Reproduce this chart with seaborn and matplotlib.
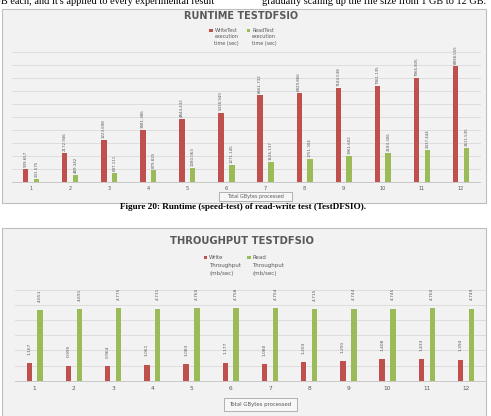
import numpy as np
import pandas as pd
import matplotlib
matplotlib.use("Agg")
import matplotlib.pyplot as plt
import seaborn as sns
from matplotlib.patches import Rectangle

# ---------------- data ----------------
sizes = ["1", "2", "3", "4", "5", "6", "7", "8", "9", "10", "11", "12"]
write_time = [939.657, 2172.946, 3223.698, 3981.386, 4844.432, 5318.949,
              6661.732, 6829.866, 7184.538, 7361.135, 7966.835, 8898.555]
read_time = [231.575, 489.342, 697.111, 879.825, 1080.063, 1271.145,
             1526.137, 1751.304, 1961.602, 2183.306, 2437.444, 2611.535]
write_tp = [1.167, 0.995, 0.964, 1.061, 1.083, 1.177, 1.080, 1.203,
            1.291, 1.408, 1.433, 1.394]
read_tp = [4.651, 4.691, 4.775, 4.731, 4.760, 4.758, 4.754, 4.715,
           4.744, 4.745, 4.760, 4.749]

rt_series = ["WriteTest\nexecution\ntime (sec)", "ReadTest\nexecution\ntime (sec)"]
tp_series = ["Write\nThroughput\n(mb/sec)", "Read\nThroughput\n(mb/sec)"]

RED = "#c0504d"
GREEN = "#9bbb59"
GREY_TXT = "#595959"
GRID = "#d9d9d9"
BOX_BG = "#f2f2f2"
BOX_EDGE = "#bfbfbf"

W, H = 491, 416
fig = plt.figure(figsize=(W / 100, H / 100), dpi=100)
fig.patch.set_facecolor("white")


def fx(x):
    return x / W


def fy(y):
    return 1 - y / H


def add_box(x0, y0, x1, y1, fc, ec, lw=0.8, z=-10):
    fig.patches.append(Rectangle((fx(x0), fy(y1)), fx(x1) - fx(x0), fy(y0) - fy(y1),
                                 transform=fig.transFigure, facecolor=fc, edgecolor=ec,
                                 linewidth=lw, zorder=z))


# page text (cut at top, as in the source page)
fig.text(fx(214), fy(4.5), "than 1GB each, and it's applied to every experimental result",
         family="Liberation Serif", fontsize=7.4, va="baseline", ha="right", color="black")
fig.text(fx(262), fy(4.5), "gradually scaling up the file size from 1 GB to 12 GB.",
         family="Liberation Serif", fontsize=7.4, va="baseline", ha="left", color="black")

# chart boxes
add_box(2, 8.5, 486, 202.5, BOX_BG, BOX_EDGE)
add_box(2, 227.5, 486, 418, BOX_BG, BOX_EDGE)

# caption
fig.text(fx(243), fy(207), "Figure 20: Runtime (speed-test) of read-write test (TestDFSIO).",
         family="Liberation Serif", fontweight="bold", fontsize=6.6, ha="center", va="center")


def draw_chart(left, right, top, bottom, series_names, w_vals, r_vals, ymax, ystep,
               label_fs, label_pad, tick_fs, tick_pad):
    ax = fig.add_axes([fx(left), fy(bottom), fx(right) - fx(left), fy(top) - fy(bottom)])
    ax.set_zorder(1)
    df = pd.DataFrame({
        "size": sizes * 2,
        "value": list(w_vals) + list(r_vals),
        "series": [series_names[0]] * len(sizes) + [series_names[1]] * len(sizes),
    })
    sns.barplot(data=df, x="size", y="value", hue="series", order=sizes,
                hue_order=series_names, palette=[RED, GREEN], saturation=1,
                width=0.554, gap=0.5, linewidth=0, legend=False, ax=ax, errorbar=None)
    ax.set_facecolor("none")
    ax.set_xlim(-0.5, len(sizes) - 0.5)
    ax.set_ylim(0, ymax)
    ax.set_yticks(np.arange(0, ymax + ystep / 2, ystep))
    ax.set_yticklabels([])
    ax.tick_params(axis="y", length=0)
    ax.tick_params(axis="x", length=0, labelsize=tick_fs, labelcolor=GREY_TXT, pad=tick_pad)
    ax.grid(axis="y", color=GRID, linewidth=0.6)
    ax.set_axisbelow(True)
    for s in ["left", "right", "top"]:
        ax.spines[s].set_visible(False)
    ax.spines["bottom"].set_color("#c8c8c8")
    ax.spines["bottom"].set_linewidth(0.7)
    ax.set_xlabel("")
    ax.set_ylabel("")
    for cont, vals in zip(ax.containers, [w_vals, r_vals]):
        ax.bar_label(cont, labels=[f"{v:.3f}" for v in vals], rotation=90,
                     padding=label_pad, fontsize=label_fs, color=GREY_TXT)
    return ax


# ---------- chart 1: runtime ----------
draw_chart(11.5, 480.5, 51.7, 181.7, rt_series, write_time, read_time, 10000, 1000,
           label_fs=2.9, label_pad=1.5, tick_fs=3.6, tick_pad=3)

fig.text(fx(241.5), fy(16), "RUNTIME TESTDFSIO", fontsize=7, fontweight="bold",
         color=GREY_TXT, ha="center", va="center")

# legend chart 1
for x_m, name, color in [(211, rt_series[0], RED), (248.5, rt_series[1], GREEN)]:
    fig.patches.append(Rectangle((fx(x_m - 1.6), fy(32.2)), 3.2 / W, 3.2 / H,
                                 transform=fig.transFigure, facecolor=color, edgecolor="none"))
    for i, line in enumerate(name.split("\n")):
        fig.text(fx(x_m + 3.5), fy(30.7 + 6.3 * i), line, fontsize=3.5, color=GREY_TXT,
                 ha="left", va="center")

# axis title box chart 1
add_box(219, 192, 292, 200.5, "#f7f7f7", "#a6a6a6", lw=0.6, z=5)
fig.text(fx(255.5), fy(196.3), "Total GBytes processed", fontsize=3.5, color=GREY_TXT,
         ha="center", va="center", zorder=6)

# ---------- chart 2: throughput ----------
draw_chart(15.1, 485.6, 289.5, 380.7, tp_series, write_tp, read_tp, 6, 1,
           label_fs=3.2, label_pad=6, tick_fs=4.2, tick_pad=4)

fig.text(fx(242.5), fy(240.5), "THROUGHPUT TESTDFSIO", fontsize=7.2, fontweight="bold",
         color=GREY_TXT, ha="center", va="center")

for x_m, name, color in [(205.7, tp_series[0], RED), (249, tp_series[1], GREEN)]:
    fig.patches.append(Rectangle((fx(x_m - 1.7), fy(259)), 3.4 / W, 3.4 / H,
                                 transform=fig.transFigure, facecolor=color, edgecolor="none"))
    for i, line in enumerate(name.split("\n")):
        fig.text(fx(x_m + 3.5), fy(257.3 + 8.0 * i), line, fontsize=4.0, color=GREY_TXT,
                 ha="left", va="center")

add_box(224, 398, 297, 411, "#f7f7f7", "#a6a6a6", lw=0.6, z=5)
fig.text(fx(260.5), fy(404.5), "Total GBytes processed", fontsize=3.9, color=GREY_TXT,
         ha="center", va="center", zorder=6)

fig.savefig("out.png", dpi=100, facecolor="white")
